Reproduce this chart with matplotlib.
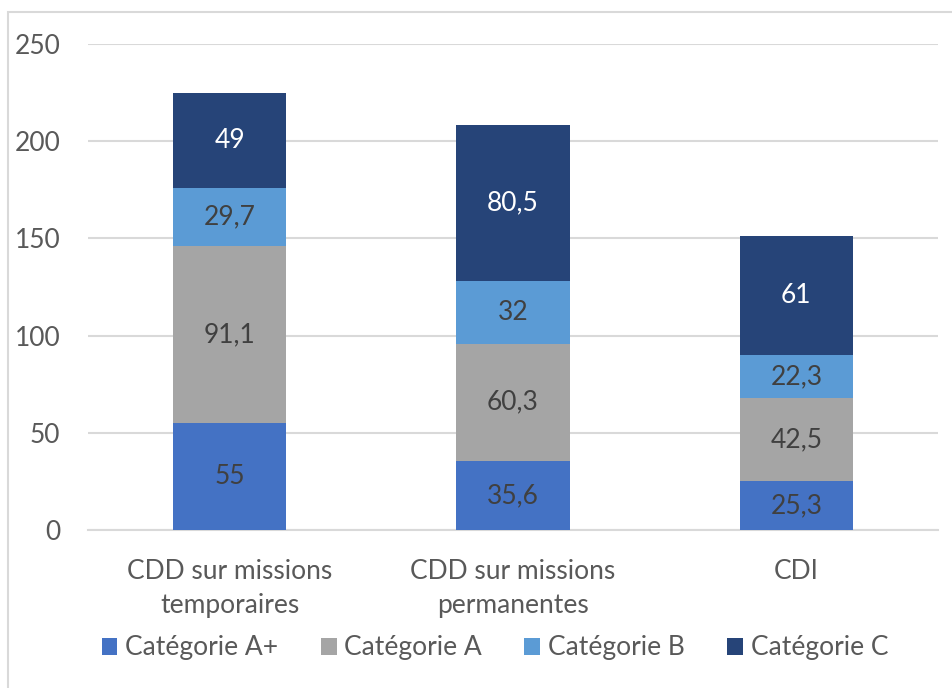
import numpy as np
import matplotlib.pyplot as plt
from matplotlib.patches import Rectangle

categories = ["CDD sur missions\ntemporaires", "CDD sur missions\npermanentes", "CDI"]
series_names = ["Catégorie A+", "Catégorie A", "Catégorie B", "Catégorie C"]
cat_a_plus = [55, 35.6, 25.3]
cat_a = [91.1, 60.3, 42.5]
cat_b = [29.7, 32, 22.3]
cat_c = [49, 80.5, 61]

series = [cat_a_plus, cat_a, cat_b, cat_c]
colors = ["#4472C4", "#A5A5A5", "#5B9BD5", "#264478"]
label_colors = ["#404040", "#404040", "#404040", "#FFFFFF"]

plt.rcParams['font.family'] = ['Lato', 'DejaVu Sans']
fs = 19

fig = plt.figure(figsize=(9.52, 6.88), dpi=100)
ax = fig.add_axes([88/952, 1-530/688, 850/952, 486/688])

# cadre gris du graphique
fig.patches.append(Rectangle((8/952, -0.1), 1.2, 1 - 12/688 + 0.1, transform=fig.transFigure,
                             fill=False, edgecolor="#D9D9D9", linewidth=1.5))

x = np.arange(len(categories))
bottom = np.zeros(len(categories))
for vals, name, col, lcol in zip(series, series_names, colors, label_colors):
    ax.bar(x, vals, width=0.4, bottom=bottom, color=col, label=name, zorder=3)
    for xi, b, v in zip(x, bottom, vals):
        ax.text(xi, b + v / 2, f"{v:g}".replace(".", ","), ha="center", va="center",
                fontsize=fs, color=lcol, zorder=4)
    bottom += np.array(vals)

ax.set_xlim(-0.5, 2.5)
ax.set_ylim(0, 250)
ax.set_yticks(range(0, 251, 50))
ax.yaxis.grid(True, color="#D9D9D9", linewidth=1.5, zorder=0)
ax.set_axisbelow(True)
for s in ["top", "right", "left"]:
    ax.spines[s].set_visible(False)
ax.spines["bottom"].set_color("#D9D9D9")
ax.spines["bottom"].set_linewidth(1.5)
ax.tick_params(axis="both", length=0, labelsize=fs, labelcolor="#595959")
ax.tick_params(axis="y", pad=20)
ax.tick_params(axis="x", pad=21)
ax.set_xticks(x)
ax.set_xticklabels(categories, linespacing=1.43)

fig.legend(loc="center", bbox_to_anchor=(0.52, 1 - 648/688), ncol=4, frameon=False,
           fontsize=fs, handlelength=0.6, handleheight=0.6, handletextpad=0.3,
           columnspacing=1.6, labelcolor="#595959")

fig.savefig("out.png", dpi=100)
